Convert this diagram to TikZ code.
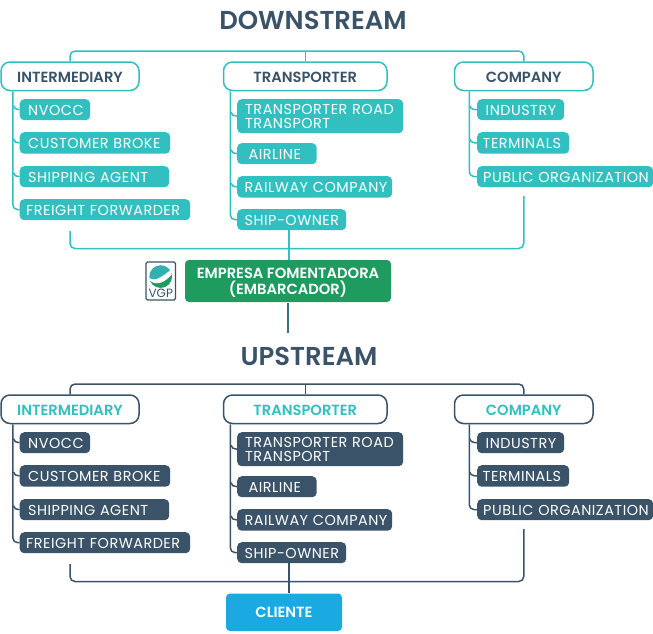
\documentclass[tikz,border=0pt]{standalone}
\usepackage{fontspec}
\setmainfont{Poppins}
\newfontfamily\boldf{Poppins}[UprightFont=* SemiBold]
\newfontfamily\lightf{Poppins}[LetterSpace=3.5]
\definecolor{teal1}{HTML}{32BFBF}
\definecolor{dark1}{HTML}{3A5368}
\definecolor{blue1}{HTML}{1BA9E2}
\definecolor{green1}{HTML}{1E9C60}
\newcommand{\lift}[2][0.6pt]{\raisebox{-#1}[\height][\depth]{#2}}
\tikzset{
 x=1pt,y=-1pt,
 hdrbox/.style={draw=#1,line width=1.5pt,fill=white,rounded corners=9pt,inner sep=0pt,font=\boldf\fontsize{14.7}{15}\selectfont},
 chipbox/.style={fill=#1,rounded corners=4.5pt,inner sep=0pt,text=white,align=left,font=\lightf\fontsize{14.4}{13.8}\selectfont},
 conn/.style={draw=#1,line width=1.5pt},
 curved/.style={conn=#1,rounded corners=5pt},
 titlebox/.style={inner sep=0pt,text=dark1,font=\boldf\fontsize{25.9}{27}\selectfont},
 solidbox/.style={fill=#1,rounded corners=4pt,inner sep=0pt,text=white,align=center,font=\boldf\fontsize{14.7}{16}\selectfont},
}
% \chipn{name}{x1}{x2}{y1}{y2}{pad}{text}{colour}
\newcommand{\chipn}[8]{\node[chipbox=#8,anchor=north west,text width=#3pt-#2pt,minimum height=#5pt-#4pt] (#1) at (#2,#4) {\hspace*{#6pt}\lift{#7}};}
\newcommand{\chiptwo}[9]{\node[chipbox=#9,anchor=north west,text width=#3pt-#2pt,minimum height=#5pt-#4pt] (#1) at (#2,#4) {\hspace*{#6pt}\lift{#7}\\\hspace*{#6pt}\lift{#8}};}
\newcommand{\tree}[4]{%  #1 prefix, #2 main colour, #3 header text colour, #4 chip colour
 \node[hdrbox=#2,text=#3,minimum width=138pt,minimum height=28.5pt] (#1h1) at (70,76.25) {\lift[1pt]{INTERMEDIARY}};
 \node[hdrbox=#2,text=#3,minimum width=163.5pt,minimum height=28.5pt] (#1h2) at (305.25,76.25) {\lift[1pt]{TRANSPORTER}};
 \node[hdrbox=#2,text=#3,minimum width=138.5pt,minimum height=28.5pt] (#1h3) at (523.75,76.25) {\lift[1pt]{COMPANY}};
 \chipn{#1a1}{19.5}{90}{99}{120}{8.5}{NVOCC}{#4}
 \chipn{#1a2}{19.5}{170}{132}{153.5}{8.5}{CUSTOMER BROKE}{#4}
 \chipn{#1a3}{19.5}{169}{166}{187}{8.5}{SHIPPING AGENT}{#4}
 \chipn{#1a4}{19.5}{190}{199}{220}{6.5}{FREIGHT FORWARDER}{#4}
 \chiptwo{#1b1}{237}{403}{99}{133}{8}{TRANSPORTER ROAD}{TRANSPORT}{#4}
 \chipn{#1b2}{237}{316.5}{143}{164}{11.5}{AIRLINE}{#4}
 \chipn{#1b3}{237}{392}{176}{197.5}{7.5}{RAILWAY COMPANY}{#4}
 \chipn{#1b4}{237}{346}{209}{230}{7.5}{SHIP-OWNER}{#4}
 \chipn{#1c1}{477}{564}{99}{120}{8.5}{INDUSTRY}{#4}
 \chipn{#1c2}{477}{569}{132}{153.5}{5.5}{TERMINALS}{#4}
 \chipn{#1c3}{477}{653}{166}{187}{6}{PUBLIC ORGANIZATION}{#4}
 \coordinate (#1top) at (305.25,51);
 \coordinate (#1bot) at (289,248.5);
 \coordinate (#1bl) at (70,231);
 \coordinate (#1br) at (523.75,196);
 \draw[curved=#2] (#1h1.north) |- (#1top) -| (#1h3.north);
 \draw[conn=#2] (#1h2.north) -- (#1top);
 \draw[curved=#2] (#1bl) |- (#1bot) -| (#1br);
 \foreach \hd/\dx/\last in {h1/12.5/a4,h2/7.5/b4,h3/15.5/c3}{
  \draw[curved=#2] ([xshift=\dx pt]#1\hd.south west) |- (#1\last.west);
 }
 \foreach \ch/\dd in {a1/6,a2/6,a3/6,b1/6,b2/6,b3/6,c1/7,c2/7}{
  \draw[conn=#2] ([xshift=-\dd pt,yshift=4pt]#1\ch.west) to[out=-90,in=180] (#1\ch.west);
 }
}
\begin{document}
\begin{tikzpicture}
\useasboundingbox (0,0) rectangle (653,633);
\node[titlebox] (tdown) at (313,20.5) {DOWNSTREAM};
\begin{scope}
 \tree{d}{teal1}{dark1}{teal1}
\end{scope}
\node[solidbox=green1,minimum width=206pt,minimum height=42pt] (emp) at (288,281) {\lift[1.7pt]{EMPRESA FOMENTADORA}\\\lift[1.7pt]{(EMBARCADOR)}};
\draw[conn=teal1] (emp.north -| dbot) -- (dbot |- db4.south);
\node[titlebox] (tup) at (309,356) {UPSTREAM};
\begin{scope}[yshift=-333pt]
 \tree{u}{dark1}{teal1}{dark1}
\end{scope}
\node[solidbox=blue1,minimum width=116pt,minimum height=37.5pt] (cli) at (284,612.25) {CLIENTE};
\coordinate (empout) at (288,333);
\draw[conn=dark1!70!teal1,shorten <=1pt] (emp.south -| empout) -- (empout);
\draw[conn=dark1] (cli.north -| ubot) -- (ubot |- ub4.south);
% VGP logo
\node[draw=dark1,line width=1.2pt,fill=white,rounded corners=1.5pt,minimum width=29.5pt,minimum height=38pt,inner sep=0pt] (logo) at (160.8,281) {};
\fill[teal1!85!dark1] (160.6,276.5) circle (11.3);
\begin{scope}
 \clip (160.6,276.5) circle (11.3);
 \fill[green1] (149,279) .. controls (156,286) and (166,276) .. (172,272) -- (173,290) -- (149,290) -- cycle;
 \fill[white] (148.5,277) .. controls (154,283) and (162,277) .. (172.5,268.5) -- (172.5,273.5) .. controls (165,283) and (155,287) .. (148.5,279) -- cycle;
\end{scope}
\node[inner sep=0pt,text=dark1,font=\fontsize{12}{12}\selectfont] (vgp) at (160.8,293.5) {VGP};
\end{tikzpicture}
\end{document}
